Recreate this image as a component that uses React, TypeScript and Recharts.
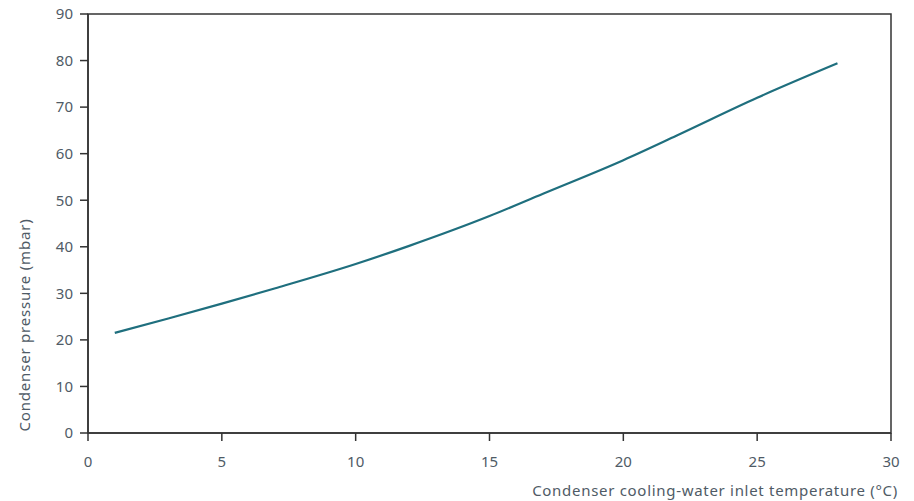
import { LineChart, Line, XAxis, YAxis, ReferenceArea } from "recharts";

const temperature = [1, 3, 5, 7, 10, 12, 15, 17, 20, 22, 25, 28];
const pressure = [21.5, 24.6, 27.8, 31.1, 36.3, 40.2, 46.6, 51.4, 58.6, 63.9, 72.0, 79.4];
const xTicks = [0, 5, 10, 15, 20, 25, 30];
const yTicks = [0, 10, 20, 30, 40, 50, 60, 70, 80, 90];

const data = temperature.map((t, i) => ({ t, p: pressure[i] }));

const textColor = "#4f5b66";
const font = "'Noto Sans', sans-serif";

export default function App() {
  return (
    <div style={{ position: "absolute", left: 0, top: 0, background: "#fff" }}>
      <LineChart width={914} height={501} data={data} margin={{ top: 14, right: 23, bottom: 0, left: 0 }}>
        <XAxis
          dataKey="t"
          type="number"
          domain={[0, 30]}
          ticks={xTicks}
          height={68}
          tickSize={8}
          tickMargin={15}
          stroke="#333"
          strokeWidth={1.5}
          tick={{ fill: textColor, fontSize: 15, fontFamily: font }}
          label={() => (
            <text x={898} y={496} textAnchor="end" fill={textColor} fontSize={15} letterSpacing={0.7} fontFamily={font}>
              Condenser cooling-water inlet temperature (°C)
            </text>
          )}
        />
        <YAxis
          type="number"
          domain={[0, 90]}
          ticks={yTicks}
          width={88}
          tickSize={8}
          tickMargin={7}
          stroke="#333"
          strokeWidth={1.5}
          tick={{ fill: textColor, fontSize: 15, fontFamily: font }}
          label={() => (
            <text
              x={30}
              y={325}
              transform="rotate(-90 30 325)"
              textAnchor="middle"
              fill={textColor}
              fontSize={15}
              letterSpacing={0.8}
              fontFamily={font}
            >
              Condenser pressure (mbar)
            </text>
          )}
        />
        <ReferenceArea x1={0} x2={30} y1={0} y2={90} fill="none" stroke="#333" strokeWidth={1.5} ifOverflow="visible" />
        <Line
          type="monotone"
          dataKey="p"
          stroke="#1f6f7e"
          strokeWidth={2.2}
          dot={false}
          isAnimationActive={false}
        />
      </LineChart>
    </div>
  );
}
